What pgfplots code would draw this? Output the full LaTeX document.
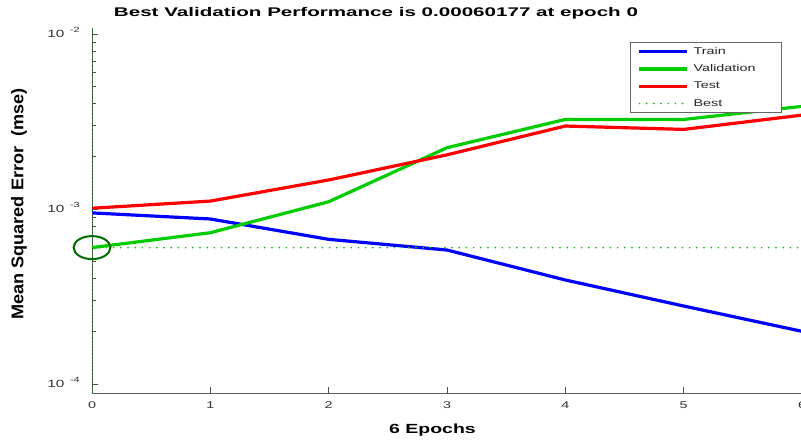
\documentclass[border=0pt]{standalone}
\usepackage{pgfplots}
\pgfplotsset{compat=1.18}
\usepackage{fontspec}
\setmainfont{Liberation Sans}[FakeStretch=1.47]
\newfontfamily\titlefont{Liberation Sans}[FakeStretch=1.64]
\newfontfamily\ylabfont{Liberation Sans}[FakeStretch=1.07]
\definecolor{mblue}{rgb}{0,0,1}
\definecolor{mgreen}{rgb}{0,0.8,0}
\definecolor{mred}{rgb}{1,0,0}
\definecolor{bestgreen}{rgb}{0.1,0.75,0.1}
\definecolor{circgreen}{rgb}{0,0.42,0}
\newcommand\tenexp[1]{10\hspace{5.5bp}\raisebox{5bp}{\fontsize{7.5}{8}\selectfont #1}}
\begin{document}
\begin{tikzpicture}
\useasboundingbox (0,0) rectangle (801bp,441bp);
\begin{axis}[
  at={(92bp,48bp)}, anchor=south west,
  scale only axis, width=710bp, height=365bp,
  xmin=0, xmax=6, ymode=log, ymin=8.883e-5, ymax=1.0822e-2,
  axis lines*=left,
  axis line style={draw=gray!75!black, line width=0.9bp},
  tick align=inside,
  major tick length=6bp, minor tick length=3.5bp,
  tick style={draw=black!70, line width=0.7bp},
  xtick={0,1,2,3,4,5,6}, xticklabels={0,1,2,3,4,5,6},
  ytick={1e-4,1e-3,1e-2}, yticklabels={\tenexp{-4},\tenexp{-3},\tenexp{-2}},
  ticklabel style={font=\fontsize{9.8}{11}\selectfont, text=black!80},
  xticklabel style={inner sep=0pt, anchor=north, yshift=-8.5bp},
  yticklabel style={font=\fontsize{10.5}{11}\selectfont, inner sep=0pt, anchor=base east, xshift=-12bp, yshift=-3.7bp},
  legend style={at={(0.9718,0.9625)}, anchor=north east, draw=black!60, line width=0.8bp,
    fill=white, inner xsep=7bp, inner ysep=3bp, row sep=5bp, column sep=2.5bp,
    font=\fontsize{9.8}{11}\selectfont, text=black!85},
  legend cell align=left,
  legend image code/.code={\draw[#1] (0bp,0bp) -- (48bp,0bp);},
]
\addplot[mblue, line width=3.2bp] coordinates {(0,9.5e-4) (1,8.77e-4) (2,6.71e-4) (3,5.83e-4) (4,3.93e-4) (5,2.79e-4) (6,2.0e-4)};
\addlegendentry{Train}
\addplot[mgreen, line width=3.2bp] coordinates {(0,6.0177e-4) (1,7.32e-4) (2,1.10e-3) (3,2.24e-3) (4,3.25e-3) (5,3.25e-3) (6,3.86e-3)};
\addlegendentry{\makebox[79bp][l]{Validation}}
\addplot[mred, line width=3.2bp] coordinates {(0,1.01e-3) (1,1.11e-3) (2,1.465e-3) (3,2.04e-3) (4,2.98e-3) (5,2.85e-3) (6,3.44e-3)};
\addlegendentry{Test}
\addplot[draw=bestgreen, line width=1.9bp, line cap=round, dash pattern=on 0bp off 7.2bp] coordinates {(0,6.0177e-4) (6,6.0177e-4)};
\addlegendentry{Best\rule[-4bp]{0pt}{4bp}}
\addplot[draw=circgreen, line width=1.2bp, dash pattern=on 1.2bp off 2bp, forget plot] coordinates {(0,8.883e-5) (0,1.0822e-2)};
\addplot[only marks, mark=o, mark size=11.5bp, mark options={xscale=1.6, line width=2bp, draw=circgreen}, forget plot] coordinates {(0,6.0177e-4)};
\end{axis}
\node[anchor=base, font=\titlefont\bfseries\fontsize{12.6}{14}\selectfont] at (376bp,424.5bp) {Best Validation Performance is 0.00060177 at epoch 0};
\node[anchor=base, font=\bfseries\fontsize{13.3}{15}\selectfont] at (432.5bp,7.7bp) {6 Epochs};
\node[rotate=90, font=\ylabfont\bfseries\fontsize{17}{19}\selectfont] at (19bp,237bp) {Mean Squared Error\ \ (mse)};
\end{tikzpicture}
\end{document}
